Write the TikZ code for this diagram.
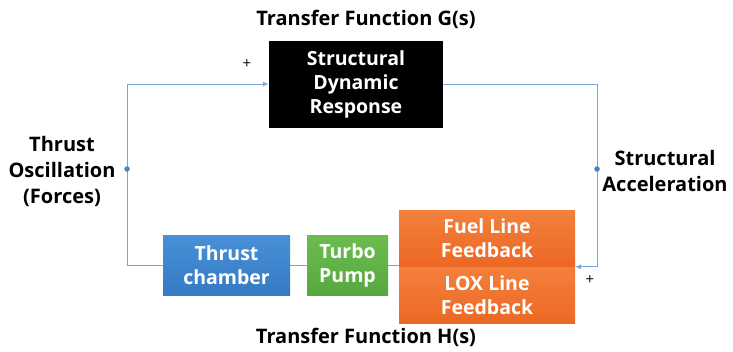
\documentclass[tikz,border=0pt]{standalone}
\usepackage{fontspec}
\setmainfont{Open Sans}
\usetikzlibrary{arrows.meta}
\definecolor{linkblue}{RGB}{120,166,218}
\definecolor{dotblue}{RGB}{70,130,200}
\definecolor{chambertop}{RGB}{72,145,214}
\definecolor{chamberbottom}{RGB}{52,122,196}
\definecolor{pumptop}{RGB}{108,188,80}
\definecolor{pumpbottom}{RGB}{86,168,62}
\definecolor{feedtop}{RGB}{243,128,60}
\definecolor{feedbottom}{RGB}{236,104,36}
\tikzset{
    block/.style={inner sep=0pt, text=white, align=center,
        font=\fontsize{19.5}{24}\selectfont\bfseries},
    label/.style={align=center, font=\fontsize{20}{26}\selectfont\bfseries},
    title/.style={font=\fontsize{20}{24}\selectfont\bfseries},
    link/.style={draw=linkblue, line width=1pt},
    tip/.style={-{Latex[length=6pt,width=5pt]}},
    joint/.style={circle, fill=dotblue, inner sep=0pt, minimum size=5.5pt},
    sign/.style={font=\fontsize{15}{15}\selectfont},
}

\begin{document}
\begin{tikzpicture}[x=1pt,y=-1pt]
    \useasboundingbox (0,0) rectangle (733,351);
    %titles
    \node[title] (gtitle) at (366,19) {Transfer Function G(s)};
    \node[title] (htitle) at (366,337) {Transfer Function H(s)};
    %blocks
    \node[block, fill=black, minimum width=174pt, minimum height=87pt] (structure) at (356,84) {Structural\\Dynamic\\Response};
    \node[block, top color=chambertop, bottom color=chamberbottom, minimum width=127pt, minimum height=60pt] (chamber) at (226.5,265) {Thrust\\chamber};
    \node[block, top color=pumptop, bottom color=pumpbottom, minimum width=81pt, minimum height=60pt] (pump) at (347.5,265) {Turbo\\Pump};
    \node[block, top color=feedtop, bottom color=feedbottom, minimum width=176pt, minimum height=56pt] (fuel) at (487,238) {Fuel Line\\Feedback};
    \node[block, top color=feedtop, bottom color=feedbottom, minimum width=176pt, minimum height=56pt] (lox) at (487,295.5) {LOX Line\\Feedback};
    %corners of the loop
    \coordinate (leftcorner) at (127,84);
    \coordinate (rightcorner) at (597,266.8);
    \coordinate (feedin) at (575,266.8);
    %loop
    \draw[link, tip] (chamber.west) -| (leftcorner) -- (structure.west);
    \draw[link, tip] (structure.east) -| (rightcorner) -- (feedin);
    \draw[link] (pump.west) -- (chamber.east);
    \draw[link] (pump.east) -- (pump.east -| fuel.west);
    %joints on the loop
    \node[joint] (leftjoint) at (127,169) {};
    \node[joint] (rightjoint) at (597,169) {};
    %signs
    \node[sign] (plustop) at (247,64) {+};
    \node[sign] (plusbottom) at (590,280) {+};
    %side labels
    \node[label] (force) at (62,171) {Thrust\\Oscillation\\(Forces)};
    \node[label] (accel) at (665,171) {Structural\\Acceleration};
\end{tikzpicture}
\end{document}
